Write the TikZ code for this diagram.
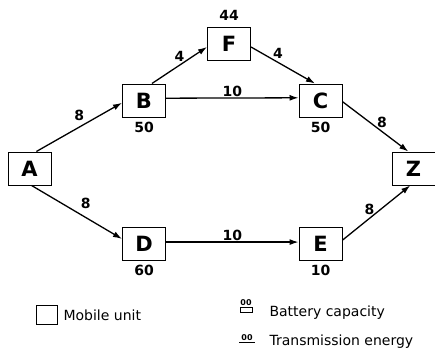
\documentclass[tikz,border=0pt]{standalone}
\usepackage{fontspec}
\setmainfont{DejaVu Sans}
\usepackage{tikz}
\usetikzlibrary{arrows.meta}

\tikzset{
  unit/.style={draw, line width=1pt, minimum width=43pt, minimum height=33pt,
    inner sep=0pt, font=\fontsize{21}{21}\selectfont\bfseries},
  energy/.style={font=\fontsize{14}{14}\selectfont\bfseries},
  link/.style={line width=1.3pt, -{Latex[length=9pt,width=6pt]}},
  legtext/.style={anchor=west, font=\fontsize{14}{14}\selectfont}
}

\begin{document}
\begin{tikzpicture}[x=1pt, y=-1pt]
    \useasboundingbox (0,0) rectangle (435,348);
    % mobile units
    \node[unit] (A) at (29.5, 168.5) {A};
    \node[unit] (B) at (144, 100.5) {B};
    \node[unit] (F) at (229, 43.5) {F};
    \node[unit] (C) at (320.5, 100.5) {C};
    \node[unit] (Z) at (413.5, 168.5) {Z};
    \node[unit] (D) at (144, 244) {D};
    \node[unit] (E) at (320.5, 244) {E};
    % battery capacities
    \node[energy, above=2pt] (capF) at (F.north) {44};
    \node[energy, below=1pt] (capB) at (B.south) {50};
    \node[energy, below=1pt] (capC) at (C.south) {50};
    \node[energy, below=1pt] (capD) at (D.south) {60};
    \node[energy, below=1pt] (capE) at (E.south) {10};
    % links with transmission energy
    \draw[link] (A.68) -- node[energy, above=2pt] {8} (B.186);
    \draw[link] (A.277) -- node[energy, pos=0.6, above=5pt] {8} (D.167);
    \draw[link] (B.65) -- node[energy, above=0pt] {4} (F.189);
    \draw[link] (F.351) -- node[energy, pos=0.42, above=0pt] {4} (C.108);
    \draw[link] (B.6.5) -- node[energy, above=-2.5pt] {10} (C.173.5);
    \draw[link] (D.5) -- node[energy, above=-2.5pt] {10} (E.175);
    \draw[link] (C.357) -- node[energy, pos=0.6, above=0pt] {8} (Z.107);
    \draw[link] (E.10) -- node[energy, pos=0.4, above=0pt] {8} (Z.259);
    % legend
    \node[draw, line width=1pt, minimum width=21pt, minimum height=19pt, inner sep=0pt] (legU) at (47, 314.5) {};
    \node[legtext] (legUtxt) at (60, 315) {Mobile unit};
    \node[draw, line width=0.8pt, minimum width=12pt, minimum height=5pt, inner sep=0pt] (legB) at (246, 310) {};
    \node[font=\fontsize{8}{8}\selectfont\bfseries, inner sep=0pt] (legBnum) at (246, 303) {00};
    \node[legtext] (legBtxt) at (266, 313) {Battery capacity};
    \node[font=\fontsize{8}{8}\selectfont\bfseries, inner sep=0pt] (legT) at (247, 337.5) {00};
    \draw[line width=1.2pt] ([xshift=-8pt, yshift=-1.5pt]legT.south) -- ([xshift=8pt, yshift=-1.5pt]legT.south);
    \node[legtext] (legTtxt) at (266, 342) {Transmission energy};
\end{tikzpicture}
\end{document}
